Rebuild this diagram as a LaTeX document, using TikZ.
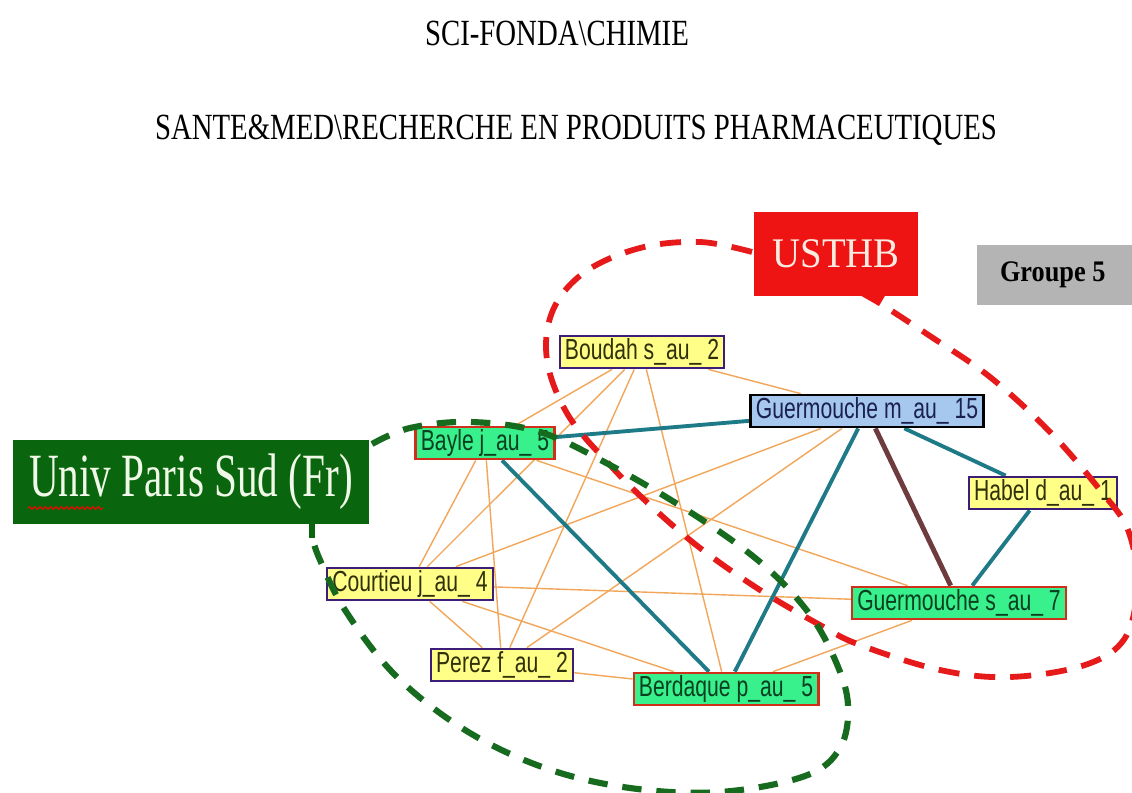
\documentclass[tikz,border=0pt]{standalone}
\usepackage{fontspec}
\usepackage{graphicx}
\setmainfont{Liberation Serif}
\newfontfamily\nodefont[FakeStretch=0.73]{Liberation Sans}
\newfontfamily\titlefont[FakeStretch=0.78]{Liberation Serif}
\usetikzlibrary{backgrounds,decorations.pathmorphing}
\definecolor{nodeyellow}{HTML}{FFFF88}
\definecolor{borderpurple}{HTML}{3C1E78}
\definecolor{textolive}{HTML}{30300A}
\definecolor{nodegreen}{HTML}{38F08C}
\definecolor{borderred}{HTML}{D0301A}
\definecolor{textgreen}{HTML}{0A4020}
\definecolor{nodeblue}{HTML}{A6C8EE}
\definecolor{textnavy}{HTML}{1A2050}
\definecolor{edgeorange}{HTML}{F2A65A}
\definecolor{edgeteal}{HTML}{1E7A86}
\definecolor{edgebrown}{HTML}{6E3B3E}
\definecolor{usthbred}{HTML}{EE1414}
\definecolor{univgreen}{HTML}{0A660E}
\definecolor{dashgreen}{HTML}{176B1E}
\definecolor{dashred}{HTML}{E61A1A}
\definecolor{groupgray}{HTML}{B4B4B4}
\begin{document}
\begin{tikzpicture}[x=0.02cm,y=-0.02cm,
  author/.style={draw, line width=1.3pt, inner xsep=3pt, inner ysep=0pt,
    minimum height=18.5pt, font=\nodefont\fontsize{16.5}{16.5}\selectfont},
  yellownode/.style={author, fill=nodeyellow, draw=borderpurple, text=textolive},
  greennode/.style={author, fill=nodegreen, draw=borderred, text=textgreen},
  bluenode/.style={author, fill=nodeblue, draw=black, text=textnavy},
  orangeedge/.style={draw=edgeorange, line width=0.8pt},
  tealedge/.style={draw=edgeteal, line width=2.2pt},
  brownedge/.style={draw=edgebrown, line width=2.8pt},
  titletext/.style={font=\titlefont\fontsize{21}{21}\selectfont, text=black, inner sep=0pt},
  redloop/.style={draw=dashred, line width=3.3pt, dash pattern=on 12pt off 8.5pt},
  greenloop/.style={draw=dashgreen, line width=3.5pt, dash pattern=on 11pt off 8.5pt}
]
\useasboundingbox (0,0) rectangle (1132,793);

% titles
\node[titletext] (t1) at (557,33) {SCI-FONDA\textbackslash CHIMIE};
\node[titletext] (t2) at (576,130) {SANTE\&MED\textbackslash RECHERCHE EN PRODUITS PHARMACEUTIQUES};

% author nodes
\node[yellownode] (boudah) at (642,352) {Boudah s\_au\_ 2};
\node[bluenode] (guerm) at (867,411) {Guermouche m\_au\_ 15};
\node[greennode] (bayle) at (485,443) {Bayle j\_au\_ 5};
\node[yellownode] (habel) at (1043,493) {Habel d\_au\_ 1};
\node[yellownode] (courtieu) at (410,584) {Courtieu j\_au\_ 4};
\node[greennode] (guers) at (959,603) {Guermouche s\_au\_ 7};
\node[yellownode] (perez) at (502,665) {Perez f\_au\_ 2};
\node[greennode] (berdaque) at (726,689) {Berdaque p\_au\_ 5};

\begin{pgfonlayer}{background}
\fill[white] (0,0) rectangle (1132,793);
% orange links
\draw[orangeedge] (boudah) -- (guerm);
\draw[orangeedge] (boudah) -- (bayle);
\draw[orangeedge] (boudah) -- (courtieu);
\draw[orangeedge] (boudah) -- (perez);
\draw[orangeedge] (boudah) -- (berdaque);
\draw[orangeedge] (bayle) -- (courtieu);
\draw[orangeedge] (bayle) -- (perez);
\draw[orangeedge] (bayle) -- (guers);
\draw[orangeedge] (courtieu) -- (guerm);
\draw[orangeedge] (courtieu) -- (guers);
\draw[orangeedge] (courtieu) -- (perez);
\draw[orangeedge] (courtieu) -- (berdaque);
\draw[orangeedge] (perez) -- (guerm);
\draw[orangeedge] (perez) -- (berdaque);
\draw[orangeedge] (guers) -- (berdaque);
% teal links
\draw[tealedge] (bayle) -- (guerm);
\draw[tealedge] (bayle) -- (berdaque);
\draw[tealedge] (guerm) -- (berdaque);
\draw[tealedge] (guerm) -- (habel);
\draw[tealedge] (habel) -- (guers);
% brown link
\draw[brownedge] (guerm) -- (guers);
\end{pgfonlayer}

% dashed group outlines
\draw[redloop] plot[smooth, tension=0.6] coordinates {(752,252) (700,242) (640,248) (585,272) (553,310) (547,360) (568,415) (610,465) (650,505) (700,548) (760,590) (820,625) (860,645) (940,670) (1010,677) (1085,665) (1125,638) (1137,585) (1128,530) (1100,490) (1050,432) (990,377) (930,336) (878,302)};
\draw[greenloop] plot[smooth, tension=0.6] coordinates {(372,444) (410,428) (470,422) (540,432) (610,465) (690,512) (760,562) (808,612) (836,662) (848,705) (840,748) (805,776) (720,792) (630,788) (545,768) (465,730) (395,675) (345,610) (320,560) (313,540)};

% group labels
\fill[usthbred] (858,294) -- (886,294) -- (879,306) -- cycle;
\node[fill=usthbred, minimum width=93pt, minimum height=47.6pt, inner sep=0pt,
  text={rgb,255:red,250;green,235;blue,225}, font=\fontsize{24}{24}\selectfont] (usthb) at (836,254) {\scalebox{0.92}[1]{USTHB}};
\node[fill=groupgray, minimum width=92pt, minimum height=34pt, inner sep=0pt,
  font=\bfseries\fontsize{17}{17}\selectfont] (groupe) at (1058,275) {\hspace*{-6pt}\scalebox{0.88}[1]{Groupe 5}};
\draw[univgreen, line width=3pt] (312,520) -- (312,538);
\node[fill=univgreen, minimum width=203pt, minimum height=48pt, inner sep=0pt,
  text={rgb,255:red,240;green,248;blue,232}, font=\fontsize{35}{35}\selectfont] (univ) at (191,482) {\scalebox{0.67}[1]{Univ Paris Sud (Fr)}};
\draw[red, line width=0.6pt, decorate, decoration={snake, amplitude=0.8pt, segment length=3pt}] (28,508) -- (103,508);
\end{tikzpicture}
\end{document}
